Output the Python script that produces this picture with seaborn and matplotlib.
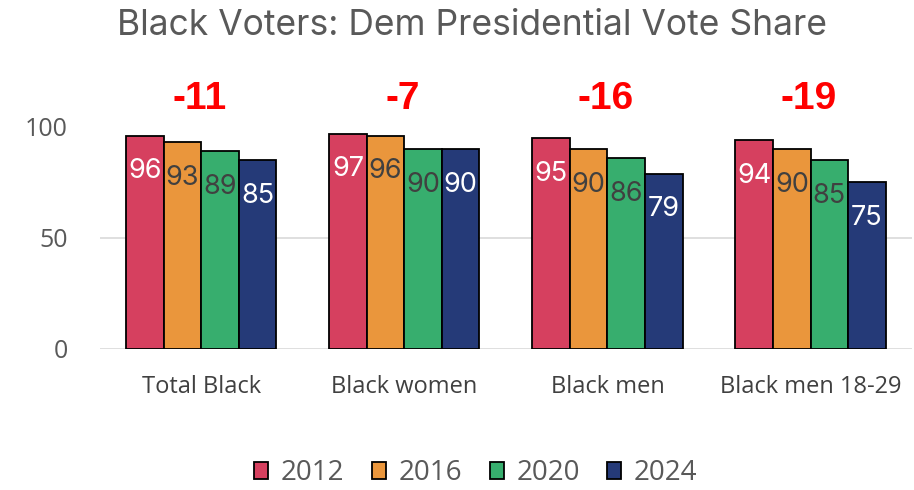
import seaborn as sns
import matplotlib.pyplot as plt
import pandas as pd

# chart data
groups = ["Total Black", "Black women", "Black men", "Black men 18-29"]
years = ["2012", "2016", "2020", "2024"]
share_2012 = [96, 97, 95, 94]
share_2016 = [93, 96, 90, 90]
share_2020 = [89, 90, 86, 85]
share_2024 = [85, 90, 79, 75]
change = ["-11", "-7", "-16", "-19"]

palette = ["#D6405F", "#EA963C", "#37AE6E", "#253A78"]
label_colors = ["white", "#404040", "#404040", "white"]

rows = []
for yr, vals in zip(years, [share_2012, share_2016, share_2020, share_2024]):
    for g, v in zip(groups, vals):
        rows.append({"group": g, "year": yr, "share": v})
df = pd.DataFrame(rows)

sns.set_style("white")
plt.rcParams["font.family"] = ["Open Sans", "DejaVu Sans"]

fig = plt.figure(figsize=(9.14, 4.9), dpi=100)
ax = fig.add_axes([0.109, 0.288, 0.889, 0.453])

sns.barplot(data=df, x="group", y="share", hue="year", order=groups,
            hue_order=years, palette=palette, width=0.74, saturation=1,
            edgecolor="black", linewidth=1.3, ax=ax)

# value labels just inside the top of each bar
for i, cont in enumerate(ax.containers):
    for bar, val in zip(cont, df[df.year == years[i]]["share"]):
        ax.text(bar.get_x() + bar.get_width() / 2, val - 16, str(val),
                ha="center", va="center", fontsize=19.5,
                color=label_colors[i], family="Inter")

# change numbers above each group
for j, c in enumerate(change):
    ax.text(j - 0.01, 112.5, c, ha="center", va="center", fontsize=28,
            fontweight="bold", color="#FF0000", family="Liberation Sans")

ax.set_ylim(0, 100)
ax.set_yticks([0, 50, 100])
ax.yaxis.grid(True, color="#D9D9D9", linewidth=1.2)
ax.get_ygridlines()[-1].set_visible(False)
ax.set_axisbelow(True)
for s in ax.spines.values():
    s.set_visible(False)
ax.tick_params(axis="y", labelsize=18, labelcolor="#595959", length=0, pad=23)
ax.tick_params(axis="x", labelsize=17, labelcolor="#404040", length=0, pad=19)
ax.set_xlabel("")
ax.set_ylabel("")

fig.text(0.516, 0.948, "Black Voters: Dem Presidential Vote Share",
         ha="center", va="center", fontsize=25.5, color="#595959", family="Inter")

ax.legend(loc="center", bbox_to_anchor=(0.463, -0.56), ncol=4, frameon=False,
          fontsize=20, labelcolor="#595959", handlelength=0.5,
          handleheight=0.55, handletextpad=0.45, columnspacing=1.0)

fig.savefig("out.png", dpi=100)
